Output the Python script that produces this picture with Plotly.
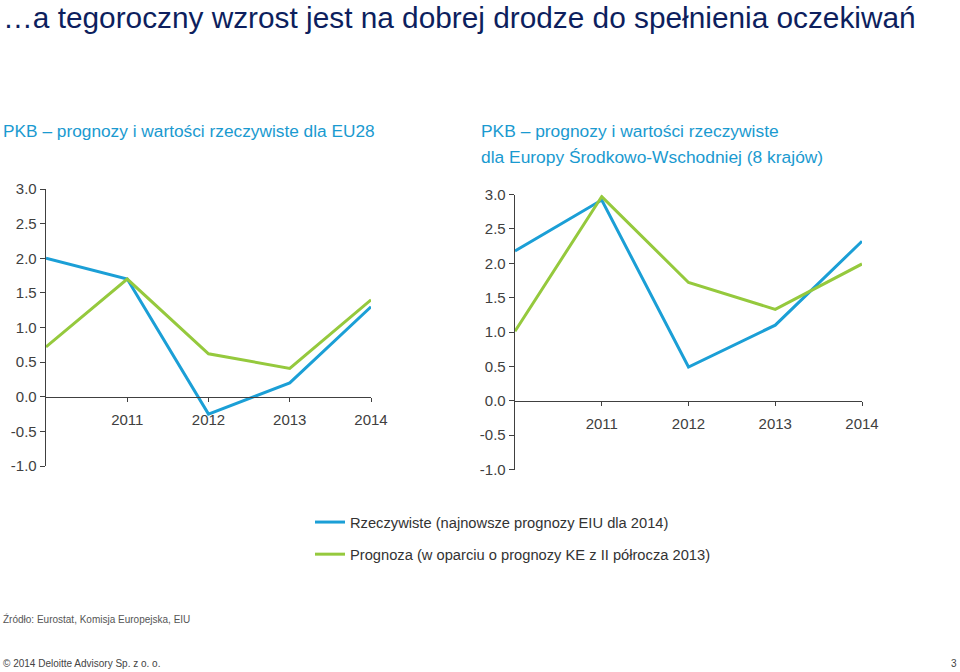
import plotly.graph_objects as go

years = [2010, 2011, 2012, 2013, 2014]
xtick_vals = [2011, 2012, 2013, 2014]
xtick_text = ["2011", "2012", "2013", "2014"]
ytick_vals = [-1.0, -0.5, 0.0, 0.5, 1.0, 1.5, 2.0, 2.5, 3.0]
ytick_text = ["-1.0", "-0.5", "0.0", "0.5", "1.0", "1.5", "2.0", "2.5", "3.0"]

eu_actual = [2.0, 1.7, -0.25, 0.2, 1.3]
eu_forecast = [0.72, 1.7, 0.62, 0.41, 1.4]
cee_actual = [2.18, 2.92, 0.49, 1.1, 2.32]
cee_forecast = [1.01, 2.97, 1.72, 1.33, 1.99]

series_names = ["Rzeczywiste (najnowsze prognozy EIU dla 2014)",
                "Prognoza (w oparciu o prognozy KE z II półrocza 2013)"]

BLUE = "#1b9fd6"
GREEN = "#95c93d"
FONT = "Liberation Sans, Arial, sans-serif"
W, H = 960, 672

fig = go.Figure()

def add(x, y, color, name, xa, ya, show, grp):
    fig.add_trace(go.Scatter(x=x, y=y, mode="lines", name=name,
                             line=dict(color=color, width=3),
                             xaxis=xa, yaxis=ya, showlegend=show,
                             legendgroup=grp))

add(years, eu_actual, BLUE, series_names[0], "x", "y", True, "a")
add(years, eu_forecast, GREEN, series_names[1], "x", "y", True, "b")
add(years, cee_actual, BLUE, series_names[0], "x2", "y2", False, "a")
add(years, cee_forecast, GREEN, series_names[1], "x2", "y2", False, "b")

def py(pix):
    return 1 - pix / H

L_x0, L_x1, L_top, L_bot = 46, 371, 189, 466
R_x0, R_x1, R_top, R_bot = 515, 862, 194.5, 469.5

def xaxis_common(dom, ypos):
    return dict(domain=dom, range=[2010, 2014], tickvals=xtick_vals,
                ticktext=xtick_text, showgrid=False, zeroline=False,
                showline=True, linecolor="#404040", linewidth=1.3,
                ticks="outside", ticklen=4, tickcolor="#404040",
                tickfont=dict(family=FONT, size=15, color="#404040"),
                anchor="free", position=ypos, ticklabelstandoff=5,
                automargin=False, fixedrange=True)

def yaxis_common(dom, anchor):
    return dict(domain=dom, range=[-1, 3], tickvals=ytick_vals,
                ticktext=ytick_text, showgrid=False, zeroline=False,
                showline=True, linecolor="#404040", linewidth=1.3,
                ticks="outside", ticklen=5, tickcolor="#404040",
                tickfont=dict(family=FONT, size=15, color="#404040"),
                anchor=anchor, automargin=False, fixedrange=True)

L_ydom = [py(L_bot), py(L_top)]
R_ydom = [py(R_bot), py(R_top)]
L_zero = L_ydom[0] + (L_ydom[1] - L_ydom[0]) * 0.25
R_zero = R_ydom[0] + (R_ydom[1] - R_ydom[0]) * 0.25

fig.update_layout(
    width=W, height=H,
    margin=dict(l=0, r=0, t=0, b=0, pad=0, autoexpand=False),
    paper_bgcolor="white", plot_bgcolor="white",
    font=dict(family=FONT),
    hovermode=False,
    xaxis=xaxis_common([L_x0 / W, L_x1 / W], L_zero),
    yaxis=yaxis_common(L_ydom, "x"),
    xaxis2=xaxis_common([R_x0 / W, R_x1 / W], R_zero),
    yaxis2=yaxis_common(R_ydom, "x2"),
    legend=dict(x=310 / W, y=py(506), xanchor="left", yanchor="top",
                font=dict(family=FONT, size=14.7, color="#333333"),
                tracegroupgap=10, bgcolor="rgba(0,0,0,0)",
                traceorder="grouped"),
)

def text(x, y, s, size, color, xanchor="left"):
    fig.add_annotation(x=x / W, y=py(y), xref="paper", yref="paper",
                       text=s, showarrow=False, xanchor=xanchor,
                       yanchor="middle", align="left",
                       font=dict(family=FONT, size=size, color=color))

text(1, 17, "…a tegoroczny wzrost jest na dobrej drodze do spełnienia oczekiwań", 29.8, "#0d1f5e")
text(1, 131, "PKB – prognozy i wartości rzeczywiste dla EU28", 17.3, "#1a9ad0")
text(479, 131, "PKB – prognozy i wartości rzeczywiste", 17.4, "#1a9ad0")
text(479, 157, "dla Europy Środkowo-Wschodniej (8 krajów)", 17.4, "#1a9ad0")
text(1, 619, "Źródło: Eurostat, Komisja Europejska, EIU", 10, "#555555")
text(1, 663, "© 2014 Deloitte Advisory Sp. z o. o.", 10, "#444444")
text(959, 663, "3", 10, "#444444", xanchor="right")

fig.write_html("out.html", config={"displayModeBar": False, "staticPlot": True},
               post_script="document.body.style.margin='0';document.body.style.overflow='hidden';")
